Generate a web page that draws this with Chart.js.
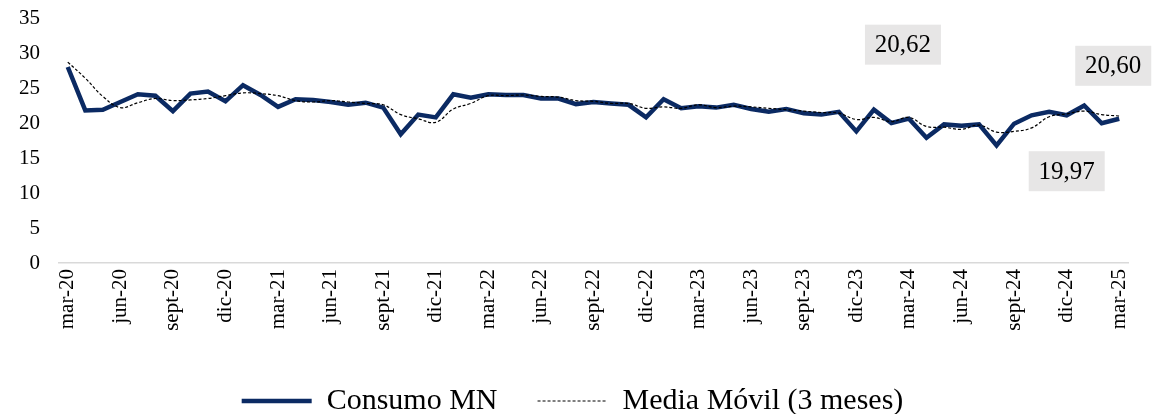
<!DOCTYPE html>
<html>
<head>
<meta charset="utf-8">
<script src="https://cdn.jsdelivr.net/npm/chart.js@4.4.1/dist/chart.umd.min.js"></script>
<style>
  html, body { margin: 0; padding: 0; background: #fff; }
  #wrap { width: 1153px; height: 414px; }
</style>
</head>
<body>
<div id="wrap"><canvas id="grafico"></canvas></div>
<script>
// Datos
var meses = ['ene', 'feb', 'mar', 'abr', 'may', 'jun', 'jul', 'ago', 'sept', 'oct', 'nov', 'dic'];
var etiquetas = [];
for (var a = 20; a <= 25; a++) {
    for (var m = 0; m < 12; m++) {
        if ((a == 20 && m < 2) || (a == 25 && m > 2)) continue;
        etiquetas.push(meses[m] + '-' + a);
    }
}
var consumoMN = [28.0, 21.8, 21.9, 23.0, 24.1, 23.9, 21.7, 24.2, 24.5, 23.1, 25.4, 24.0,
    22.3, 23.4, 23.3, 23.0, 22.6, 22.9, 22.2, 18.4, 21.2, 20.8, 24.1, 23.6,
    24.1, 24.0, 24.0, 23.5, 23.5, 22.7, 23.0, 22.8, 22.6, 20.8, 23.4, 22.1,
    22.4, 22.2, 22.6, 22.0, 21.6, 22.0, 21.4, 21.2, 21.6, 18.8, 21.9, 20.0,
    20.62, 17.9, 19.8, 19.6, 19.8, 16.8, 19.9, 21.1, 21.6, 21.1, 22.5, 19.97,
    20.60];
var mediaMovil = [28.7, 26.4, 23.8, 22.2, 22.9, 23.5, 23.2, 23.3, 23.5, 23.9, 24.3, 24.2,
    23.9, 23.2, 23.0, 23.2, 23.0, 22.8, 22.6, 21.2, 20.6, 20.1, 22.0, 22.8,
    23.9, 23.9, 24.0, 23.8, 23.7, 23.2, 23.1, 22.8, 22.8, 22.1, 22.3, 22.1,
    22.6, 22.2, 22.4, 22.3, 22.1, 21.9, 21.7, 21.5, 21.4, 20.5, 20.8, 20.2,
    20.8, 19.5, 19.4, 19.1, 19.7, 18.7, 18.8, 19.3, 20.9, 21.3, 21.7, 21.2,
    21.0];
var ticksY = [0, 5, 10, 15, 20, 25, 30, 35];
// puntos con etiqueta de dato
var puntosEtiqueta = [48, 59, 60];

var fuente = "'Liberation Serif', 'Times New Roman', serif";

// Plugin etiquetas con recuadro gris
var etiquetasDatos = {
    id: 'etiquetasDatos',
    afterDatasetsDraw: function(chart, args, opts) {
        var ctx = chart.ctx;
        var meta = chart.getDatasetMeta(0);
        ctx.save();
        ctx.font = '25px ' + fuente;
        ctx.textAlign = 'center';
        ctx.textBaseline = 'middle';
        for (var i in puntosEtiqueta) {
            var idx = puntosEtiqueta[i];
            var pt = meta.data[idx];
            var desp = opts.desplazamientos[i];
            var cx = pt.x + desp[0];
            var cy = pt.y + desp[1];
            ctx.fillStyle = '#e7e6e6';
            ctx.fillRect(cx - 38, cy - 20, 76, 40);
            ctx.fillStyle = '#000';
            ctx.fillText(consumoMN[idx].toFixed(2).replace('.', ','), cx, cy + 1);
        }
        ctx.restore();
    }
};

new Chart(document.getElementById('grafico').getContext('2d'), {
    type: 'line',
    data: {
        labels: etiquetas,
        datasets: [{
            label: 'Consumo MN',
            data: consumoMN,
            borderColor: '#0b2a63',
            backgroundColor: '#0b2a63',
            borderWidth: 4.5,
            pointRadius: 0,
            tension: 0,
            order: 2
        }, {
            label: 'Media Móvil (3 meses)',
            data: mediaMovil,
            borderColor: '#000',
            backgroundColor: '#000',
            borderWidth: 1.2,
            borderDash: [3, 2],
            pointRadius: 0,
            tension: 0.4,
            order: 1
        }]
    },
    options: {
        responsive: true,
        maintainAspectRatio: false,
        animation: false,
        layout: { padding: { top: 18, left: 17, right: 25, bottom: -12 } },
        scales: {
            x: {
                offset: true,
                grid: { display: false, drawTicks: false },
                border: { display: true, color: '#d9d9d9', width: 1.5 },
                ticks: {
                    autoSkip: false,
                    maxRotation: 90,
                    minRotation: 90,
                    padding: 6,
                    color: '#000',
                    font: { family: fuente, size: 21 },
                    callback: function(v, i) { return i % 3 == 0 ? etiquetas[i] : ''; }
                },
                afterFit: function(s) { s.height = 83; s.paddingLeft = 0; s.paddingRight = 0; }
            },
            y: {
                min: 0,
                max: 35,
                grid: { display: false, drawTicks: false },
                border: { display: false },
                afterBuildTicks: function(s) { s.ticks = ticksY.map(function(v) { return { value: v }; }); },
                ticks: {
                    padding: 19,
                    color: '#000',
                    font: { family: fuente, size: 21 }
                },
                afterFit: function(s) { s.width = 42; s.paddingTop = 0; s.paddingBottom = 0; }
            }
        },
        plugins: {
            legend: {
                position: 'bottom',
                labels: {
                    usePointStyle: true,
                    pointStyle: 'line',
                    pointStyleWidth: 70,
                    boxHeight: 14,
                    padding: 40,
                    color: '#000',
                    font: { family: fuente, size: 30 },
                    sort: function(a, b) { return a.datasetIndex - b.datasetIndex; },
                    generateLabels: function(chart) {
                        var items = Chart.defaults.plugins.legend.labels.generateLabels(chart);
                        items.forEach(function(it) {
                            var ds = chart.data.datasets[it.datasetIndex];
                            it.lineDash = ds.borderDash || [];
                            it.lineWidth = ds.borderWidth;
                        });
                        return items;
                    }
                }
            },
            tooltip: { enabled: false },
            etiquetasDatos: {
                desplazamientos: [[-6, -74], [-35, 48], [-6, -53]]
            }
        }
    },
    plugins: [etiquetasDatos]
});
</script>
</body>
</html>
